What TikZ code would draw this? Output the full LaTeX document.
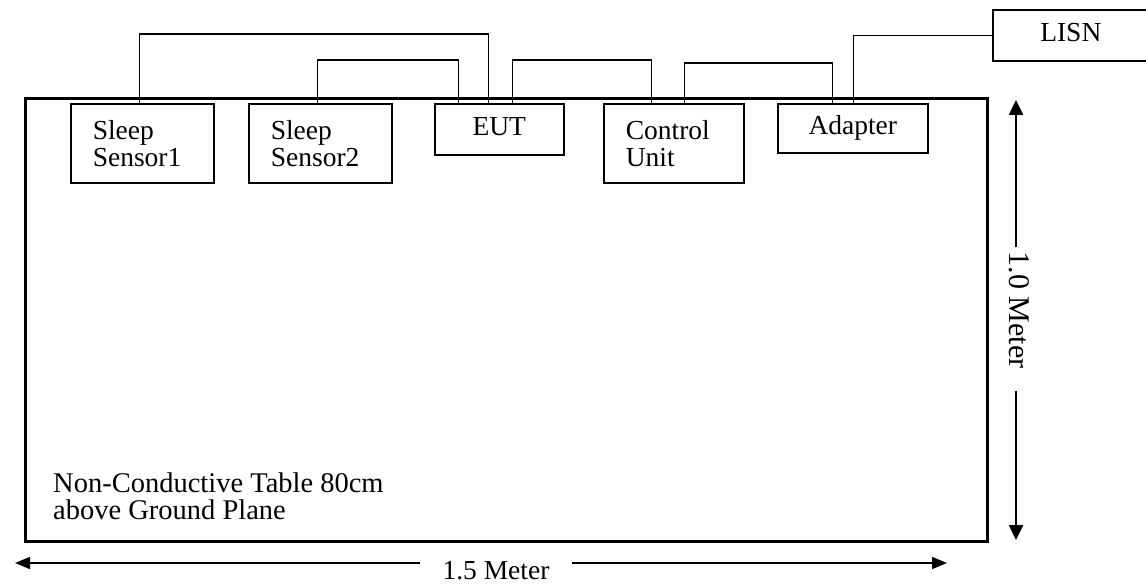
\documentclass[tikz,border=0pt]{standalone}
\usepackage{fontspec}
\setmainfont{Liberation Serif}
\usetikzlibrary{arrows.meta,calc}

\begin{document}
\begin{tikzpicture}[x=1pt,y=-1pt,
	font=\fontsize{27.5pt}{27pt}\selectfont,
	devbox/.style={draw, line width=1.6pt, anchor=north west, inner xsep=22pt, inner ysep=0pt, align=left},
	onerow/.style={text height=19pt, text depth=6pt},
	wire/.style={line width=1.3pt},
	hdim/.style={line width=1.5pt, -{Triangle[length=15pt,width=12pt]}},
	vdim/.style={line width=2.5pt, -{Triangle[length=15pt,width=14pt]}}]
	
	\useasboundingbox (0,0) rectangle (1146,585);
	\clip (0,0) rectangle (1146,585);
	
	% Parameters
	\def\top{103} % upper edge of the units
	
	% -----------------------------
	% Table
	% -----------------------------
	\draw[line width=3pt] (25,99) rectangle (987,541);
	\node[anchor=north west, inner sep=0pt, align=left, font=\fontsize{28.5pt}{26.6pt}\selectfont] (tlab) at (53,472.5) {Non-Conductive Table 80cm\\above Ground Plane};
	
	% -----------------------------
	% Units
	% -----------------------------
	\node[devbox, minimum width=143pt, minimum height=79pt, text width=99pt] (ss1) at (70,\top) {Sleep\\Sensor1};
	\node[devbox, minimum width=143pt, minimum height=79pt, text width=99pt] (ss2) at (248,\top) {Sleep\\Sensor2};
	\node[devbox, onerow, minimum width=129pt, minimum height=51pt] (eut) at (434,\top) {EUT};
	\node[devbox, minimum width=140pt, minimum height=79pt, text width=96pt] (cu) at (603,\top) {Control\\Unit};
	\node[devbox, onerow, minimum width=150pt, minimum height=49pt] (adp) at (777,\top) {Adapter};
	\node[devbox, onerow, minimum width=156pt, minimum height=51pt] (lisn) at (992,9) {LISN};
	
	% Cables (from / shift / to / shift / rise)
	\foreach \a/\da/\b/\db/\h in {ss1/-2.5/eut/-10.5/69, ss2/-2.5/eut/-40.5/43, eut/13.5/cu/-22/43, cu/11/adp/-20/40} {
		\draw[wire] ($(\a.north)+(\da,0)$) -- ++(0,-\h) -| ($(\b.north)+(\db,0)$);
	}
	\draw[wire] ($(adp.north)+(1,0)$) |- (lisn.west);
	
	% -----------------------------
	% Dimensions
	% -----------------------------
	\coordinate (wl) at (15,563);
	\coordinate (wr) at (947,563);
	\node[inner xsep=22pt] (wlab) at (496,571) {1.5 Meter};
	\draw[hdim] (wlab.west |- wl) -- (wl);
	\draw[hdim] (wlab.east |- wr) -- (wr);
	
	\coordinate (vt) at (1016,100);
	\coordinate (vb) at (1016,540);
	\node[rotate=-90, inner xsep=4pt, font=\fontsize{30pt}{30pt}\selectfont] (vlab) at (1019,310) {1.0 Meter};
	\draw[vdim] (vlab.west -| vt) -- (vt);
	\draw[vdim] ($(vlab.east -| vb)+(0,18)$) -- (vb);
	
\end{tikzpicture}
\end{document}
